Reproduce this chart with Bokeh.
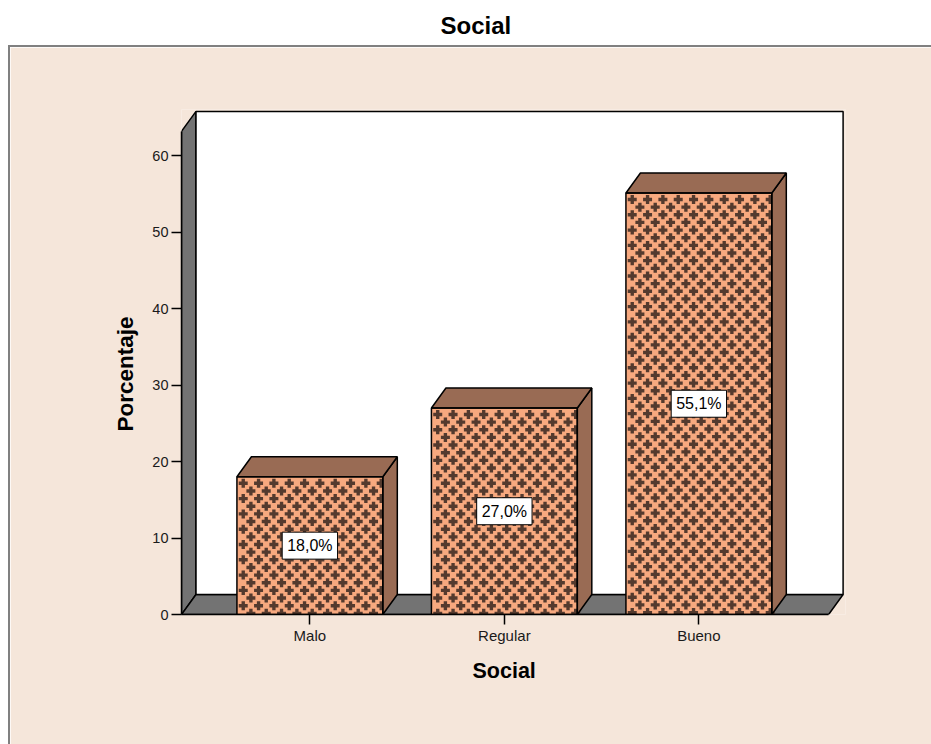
from bokeh.embed import file_html
from bokeh.resources import INLINE
from bokeh.plotting import figure
from bokeh.layouts import column
from bokeh.models import ColumnDataSource, FixedTicker, LinearAxis, Range1d, Title
from bokeh.core.properties import value

categories = ["Malo", "Regular", "Bueno"]
percent = [18.0, 27.0, 55.1]
labels = ["18,0%", "27,0%", "55,1%"]
y_ticks = [0, 10, 20, 30, 40, 50, 60]

BEIGE = "#F5E6DA"; SALMON = "#F7A97F"; BROWN = "#996B54"; GREY = "#737373"; INK = "#1a1a1a"; DARK = "#543a2e"
FONT = "Liberation Sans"
PX_X, PX_Y = 194.5, 7.65  # pixels per data unit
DX, DY = 14.5 / PX_X, 20 / PX_Y  # depth of the 3-D effect
X0, X1 = -0.66, 2.667     # floor extent
TOP = 63.15               # front top of the left wall
W = 0.75

header = figure(width=931, height=45, output_backend="svg", toolbar_location=None,
                x_axis_type=None, y_axis_type=None, min_border=0, min_border_top=40,
                outline_line_color=None, border_fill_color="white", background_fill_color=None)
header.title = Title(text="Social", align="left", offset=269, standoff=4,
                     text_font=FONT, text_font_size="24px", text_font_style="bold", text_color="black")

p = figure(width=923, height=699, output_backend="svg", toolbar_location=None,
           x_range=Range1d(X0, X0 + 664 / PX_X), y_range=Range1d(0, 505 / PX_Y),
           x_axis_type=None, y_axis_type=None,
           min_border_left=171, min_border_right=88, min_border_top=62, min_border_bottom=132,
           border_fill_color=BEIGE, background_fill_color=BEIGE, outline_line_color=None,
           margin=(0, 0, 0, 8))
p.styles = {"border-left": "2px solid #808080", "border-top": "2px solid #808080"}

# walls and floor
p.patch([X0, X0 + DX, X0 + DX, X0], [0, DY, TOP + DY, TOP], fill_color=GREY, line_color="black", line_width=1.5)
p.patch([X0, X1, X1 + DX, X0 + DX], [0, 0, DY, DY], fill_color=GREY, line_color="black", line_width=1.5)
p.patch([X0 + DX, X1 + DX, X1 + DX, X0 + DX], [DY, DY, TOP + DY, TOP + DY], fill_color="white", line_color="black", line_width=1.5)

xs = list(range(len(categories)))
p.vbar(x=xs, top=percent, bottom=0, width=W, fill_color=SALMON, line_color=None)

# staggered plus-shaped fill pattern, anchored at each bar's top-left corner
col_step = 15.33 / PX_X
row_step = 7.65 / PX_Y
px, py = [], []
for x, v in zip(xs, percent):
    left = x - W / 2
    k = 0
    y = v - 6.5 / PX_Y
    while y > -0.3:
        cx = left + 6.3 / PX_X + (col_step / 2 if k % 2 else 0)
        if k % 2:
            cx -= col_step
        while cx < x + W / 2 + 0.02:
            if cx > left + 4 / PX_X:
                px.append(cx)
                py.append(y)
            cx += col_step
        y -= row_step
        k += 1
p.scatter(px, py, marker="plus", size=9, fill_color=DARK, line_color=None)

side_x = [[x + W / 2, x + W / 2 + DX, x + W / 2 + DX, x + W / 2] for x in xs]
side_y = [[0, DY, v + DY, v] for v in percent]
top_x = [[x - W / 2, x - W / 2 + DX, x + W / 2 + DX, x + W / 2] for x in xs]
top_y = [[v, v + DY, v + DY, v] for v in percent]
p.patches(side_x, side_y, fill_color=BROWN, line_color="black", line_width=1.5)
p.patches(top_x, top_y, fill_color=BROWN, line_color="black", line_width=1.5)
p.vbar(x=xs, top=percent, bottom=0, width=W, fill_color=None, line_color="black", line_width=1.5)

src = ColumnDataSource(dict(x=xs, y=[v / 2 for v in percent], t=labels))
p.text(x="x", y="y", text="t", source=src, text_align="center", text_baseline="middle",
       text_font=value(FONT), text_font_size="16px", text_color="black",
       background_fill_color="white", border_line_color="black", border_line_width=1, padding=5)

xa = LinearAxis(ticker=FixedTicker(ticks=xs), major_label_overrides=dict(zip(xs, categories)),
                bounds=(X0, X1),
                major_label_text_font=FONT, major_label_text_font_size="15px", major_label_text_color=INK,
                major_label_standoff=2,
                major_tick_out=10, major_tick_in=0, minor_tick_out=0, minor_tick_in=0,
                axis_line_color="black", axis_line_width=1.5, major_tick_line_color="black", major_tick_line_width=1.5)
p.add_layout(xa, "below")
ya = LinearAxis(ticker=FixedTicker(ticks=y_ticks), bounds=(0, TOP),
                major_label_text_font=FONT, major_label_text_font_size="14.5px", major_label_text_color=INK,
                major_label_standoff=3,
                major_tick_out=10, major_tick_in=0, minor_tick_out=0, minor_tick_in=0,
                axis_line_color="black", axis_line_width=1.5, major_tick_line_color="black", major_tick_line_width=1.5)
p.add_layout(ya, "left")
p.add_layout(Title(text="Social", align="left", offset=291, standoff=20, text_font=FONT,
                   text_font_size="21.5px", text_font_style="bold", text_color="black"), "below")
p.add_layout(Title(text="Porcentaje", align="left", offset=183, standoff=24, text_font=FONT,
                   text_font_size="22.5px", text_font_style="bold", text_color="black"), "left")

open("out.html", "w").write(file_html(column(header, p, spacing=0), INLINE))
